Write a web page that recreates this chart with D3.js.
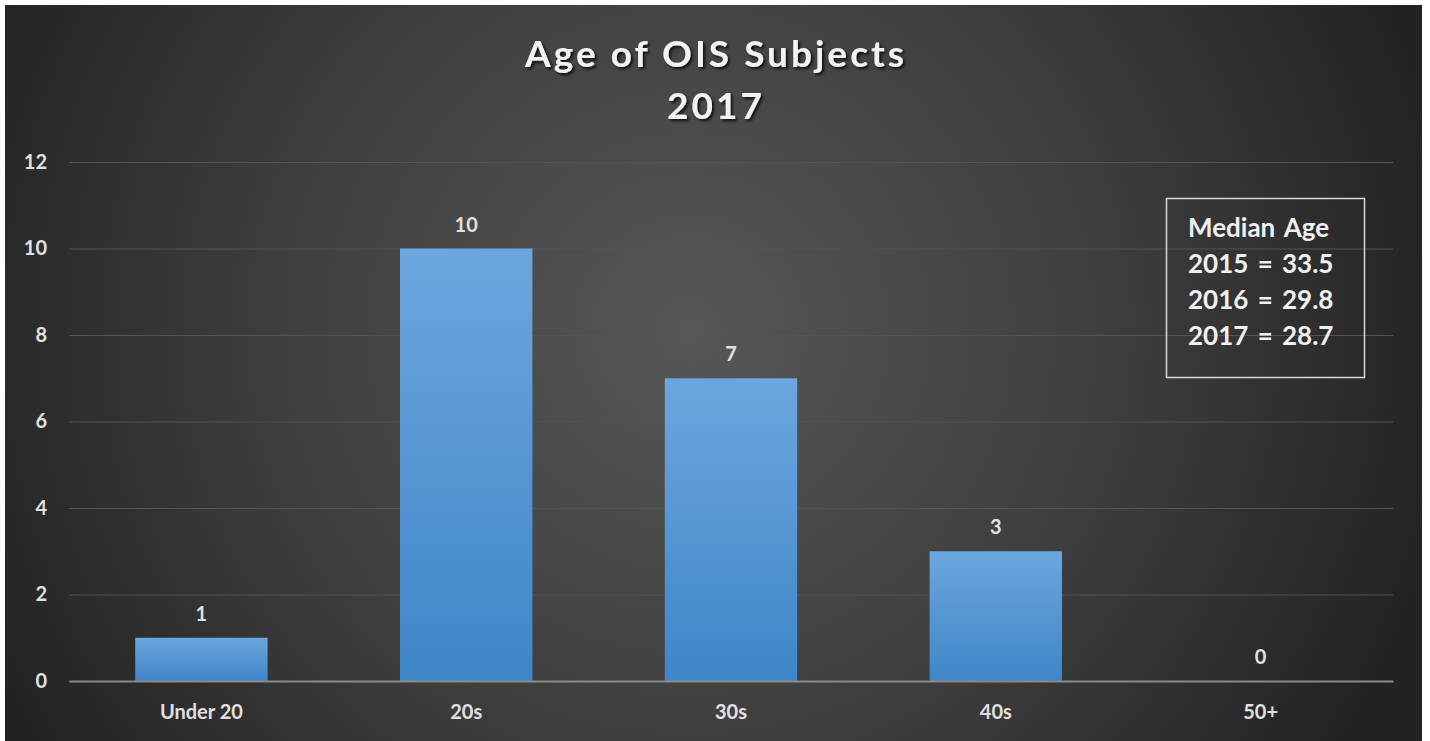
<!DOCTYPE html>
<html>
<head>
<meta charset="utf-8">
<script src="https://cdn.jsdelivr.net/npm/d3@7"></script>
<style>
  html, body { margin: 0; padding: 0; background: #fff; }
  svg { display: block; }
  text { font-family: Lato, "Open Sans", sans-serif; }
</style>
</head>
<body>
<div id="chart"></div>
<script>
const CATEGORIES = ["Under 20", "20s", "30s", "40s", "50+"]
const COUNTS = [1, 10, 7, 3, 0]
const Y_TICKS = [0, 2, 4, 6, 8, 10, 12]
const TITLE_LINES = ["Age of OIS Subjects", "2017"]
const MEDIAN_LINES = ["Median Age", "2015 = 33.5", "2016 = 29.8", "2017 = 28.7"]

const width = 1430, height = 741
const panel = { x: 5, y: 5, w: 1417, h: 736 }
const margin = { top: 162, right: 1430 - 1393, bottom: 741 - 681, left: 69 }
const innerW = width - margin.left - margin.right
const innerH = height - margin.top - margin.bottom

const svg = d3.select("#chart").append("svg")
  .attr("width", width)
  .attr("height", height)

const defs = svg.append("defs")
const bg = defs.append("radialGradient")
  .attr("id", "bg")
  .attr("gradientUnits", "userSpaceOnUse")
  .attr("cx", 690).attr("cy", 330).attr("r", 780)
bg.append("stop").attr("offset", "0%").attr("stop-color", "#575757")
bg.append("stop").attr("offset", "55%").attr("stop-color", "#3d3d3d")
bg.append("stop").attr("offset", "100%").attr("stop-color", "#222")

const barGrad = defs.append("linearGradient")
  .attr("id", "bar").attr("x1", 0).attr("y1", 0).attr("x2", 0).attr("y2", 1)
barGrad.append("stop").attr("offset", "0%").attr("stop-color", "#6ca6de")
barGrad.append("stop").attr("offset", "100%").attr("stop-color", "#3f86c7")

const shadow = defs.append("filter").attr("id", "shadow")
  .attr("x", "-10%").attr("y", "-20%").attr("width", "120%").attr("height", "150%")
shadow.append("feDropShadow")
  .attr("dx", 2).attr("dy", 2).attr("stdDeviation", 1.5)
  .attr("flood-color", "#000").attr("flood-opacity", 0.8)

svg.append("rect")
  .attr("x", panel.x).attr("y", panel.y)
  .attr("width", panel.w).attr("height", panel.h)
  .attr("fill", "url(#bg)")

// title
svg.append("g").selectAll("text")
  .data(TITLE_LINES)
  .join("text")
  .attr("x", 716)
  .attr("y", (d, i) => 67 + i * 52)
  .attr("text-anchor", "middle")
  .attr("font-size", 37)
  .attr("font-weight", "bold")
  .attr("letter-spacing", 3)
  .attr("fill", "#f2f2f2")
  .attr("filter", "url(#shadow)")
  .text(d => d)

const x = d3.scaleBand()
  .domain(CATEGORIES)
  .range([0, innerW])
  .paddingInner(0.5)
  .paddingOuter(0.25)

const y = d3.scaleLinear()
  .domain([0, 12])
  .range([innerH, 0])

const g = svg.append("g")
  .attr("transform", `translate(${margin.left},${margin.top})`)

// gridlines
const grid = g.append("g")
  .call(d3.axisLeft(y).tickValues(Y_TICKS).tickSize(-innerW).tickFormat(""))
grid.select(".domain").remove()
grid.selectAll("line").attr("stroke", "#555").attr("stroke-width", 1.2)

// y labels
const yAx = g.append("g")
  .call(d3.axisLeft(y).tickValues(Y_TICKS).tickSize(0).tickPadding(22))
yAx.attr("font-size", 20).attr("font-family", null)
yAx.select(".domain").remove()
yAx.selectAll("text")
  .attr("font-weight", "bold")
  .attr("fill", "#e0e0e0")

// bars
g.selectAll(".bar")
  .data(COUNTS)
  .join("rect")
  .attr("class", "bar")
  .attr("x", (d, i) => x(CATEGORIES[i]))
  .attr("y", d => y(d))
  .attr("width", x.bandwidth())
  .attr("height", d => innerH - y(d))
  .attr("fill", "url(#bar)")

// baseline
const xAx = g.append("g")
  .attr("transform", `translate(0,${innerH})`)
  .call(d3.axisBottom(x).tickSize(0).tickPadding(24))
xAx.attr("font-size", 20).attr("font-family", null)
xAx.select(".domain").attr("stroke", "#8a8a8a").attr("stroke-width", 2)
xAx.selectAll("text")
  .attr("font-weight", "bold")
  .attr("fill", "#e0e0e0")

// value labels
g.selectAll(".val")
  .data(COUNTS)
  .join("text")
  .attr("class", "val")
  .attr("x", (d, i) => x(CATEGORIES[i]) + x.bandwidth() / 2)
  .attr("y", d => y(d) - 17)
  .attr("text-anchor", "middle")
  .attr("font-size", 20)
  .attr("font-weight", "bold")
  .attr("fill", "#e0e0e0")
  .text(d => d)

// median age box
const box = svg.append("g")
box.append("rect")
  .attr("x", 1166.5).attr("y", 198.5)
  .attr("width", 198).attr("height", 179)
  .attr("fill", "none")
  .attr("stroke", "#d8d8d8").attr("stroke-width", 1.5)
box.selectAll("text")
  .data(MEDIAN_LINES)
  .join("text")
  .attr("x", 1188)
  .attr("y", (d, i) => 237 + i * 36)
  .attr("font-size", 26)
  .attr("font-weight", "bold")
  .attr("fill", "#f0f0f0")
  .attr("word-spacing", 3)
  .text(d => d)
</script>
</body>
</html>
